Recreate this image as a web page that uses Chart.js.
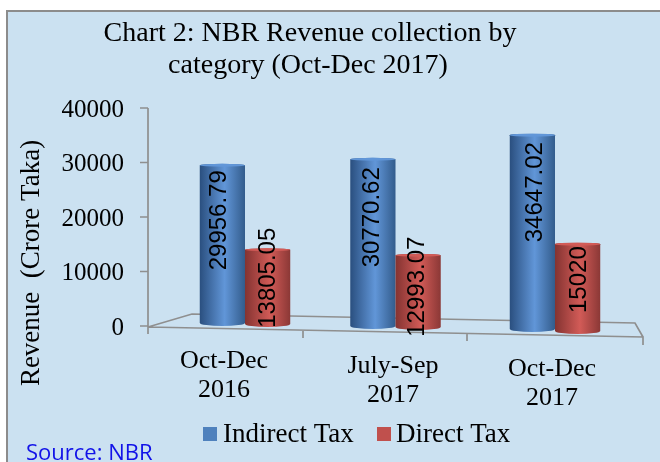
<!DOCTYPE html>
<html><head><meta charset="utf-8">
<style>html,body{margin:0;padding:0;background:#fff}#w{position:absolute;left:0;top:0;width:660px;height:462px}</style>
<script src="https://cdn.jsdelivr.net/npm/chart.js@4"></script></head>
<body><div id="w"><canvas id="c" width="660" height="462"></canvas></div>
<script>
const categories = [["Oct-Dec","2016"],["July-Sep","2017"],["Oct-Dec","2017"]];
const indirectTax = [29956.79, 30770.62, 34647.02];
const directTax = [13805.05, 12993.07, 15020];
const yTicks = [0, 10000, 20000, 30000, 40000];
const titleLines = ["Chart 2: NBR Revenue collection by", "category (Oct-Dec 2017)"];
const yAxisTitle = "Revenue  (Crore Taka)";
const sourceNote = "Source: NBR";

const SERIF = '"Liberation Serif", serif';
const palettes = [["#2a4f7f","#6196d8","#335c8c"],["#843331","#d25b57","#8b3836"]];
const swatches = ["#4f81bd","#c0504d"];
// perspective adjustments in pixels, by series then group
const groupSide = [2,-3.5,0];
const topTilt = [[2.5,1,-2],[-1,0,0]];
const baseTilt = [[-3,0,3],[-2,1,5]];
const labelDrop = [[57.5,59,55],[27,31.5,35.5]];
const labelSide = [[-3,-1,3],[1,-1,2]];
const catShift = [[-19,35],[-6,40],[-3,43]];

function cylinder(ctx, el, pal, s, k) {
  const x = el.x + groupSide[k] - el.width/2, w = el.width, top = el.y + topTilt[s][k], bot = el.base + baseTilt[s][k];
  const g = ctx.createLinearGradient(x,0,x+w,0);
  g.addColorStop(0,pal[0]); g.addColorStop(.55,pal[1]); g.addColorStop(1,pal[2]);
  ctx.fillStyle = g;
  ctx.beginPath();
  ctx.moveTo(x,top); ctx.lineTo(x,bot);
  ctx.ellipse(x+w/2,bot,w/2,3,0,Math.PI,0,true);
  ctx.lineTo(x+w,top);
  ctx.ellipse(x+w/2,top,w/2,1.5,0,0,Math.PI,true);
  ctx.closePath(); ctx.fill();
  ctx.fillStyle = pal[1];
  ctx.beginPath(); ctx.ellipse(x+w/2,top,w/2,1.5,0,0,Math.PI*2); ctx.fill();
}

const scene = {
  id:'scene',
  beforeDraw(chart){
    const {ctx} = chart;
    ctx.save();
    ctx.fillStyle='#fff'; ctx.fillRect(0,0,660,462);
    ctx.fillStyle='#cbe1f1'; ctx.fillRect(6,10,654,452);
    ctx.fillStyle='#8c8c8c'; ctx.fillRect(6,10,654,2); ctx.fillRect(6,10,2,452);
    ctx.restore();
  },
  beforeDatasetsDraw(chart){
    const {ctx,scales:{x,y}} = chart;
    const y0 = y.getPixelForValue(0), yT = y.getPixelForValue(40000);
    ctx.save();
    ctx.strokeStyle='#8f8f8f'; ctx.lineWidth=1.7;
    const ax=148;
    ctx.beginPath(); ctx.moveTo(ax,yT); ctx.lineTo(ax,y0+8);
    yTicks.forEach(v=>{const p=y.getPixelForValue(v);ctx.moveTo(ax-8,p);ctx.lineTo(ax,p);});
    ctx.moveTo(ax,y0+1); ctx.lineTo(192,y0-12); ctx.lineTo(635,y0-3); ctx.lineTo(643,y0+11);
    ctx.moveTo(ax,y0+1); ctx.lineTo(643,y0+11); ctx.lineTo(643,y0+19);
    ctx.moveTo(303,y0+4); ctx.lineTo(303,y0+12);
    ctx.moveTo(467,y0+7); ctx.lineTo(467,y0+15);
    ctx.stroke();
    chart.data.datasets.forEach((d,s)=>{
      chart.getDatasetMeta(s).data.forEach((el,k)=>cylinder(ctx,el,palettes[s],s,k));
    });
    ctx.fillStyle='#000'; ctx.font='24px "Liberation Sans", sans-serif';
    ctx.textAlign='center'; ctx.textBaseline='middle';
    chart.data.datasets.forEach((d,s)=>{
      chart.getDatasetMeta(s).data.forEach((el,k)=>{
        ctx.save();
        ctx.translate(el.x+groupSide[k]+labelSide[s][k], el.y+labelDrop[s][k]);
        ctx.rotate(-Math.PI/2);
        ctx.fillText(String(d.data[k]),0,0);
        ctx.restore();
      });
    });
    ctx.font='26px '+SERIF;
    categories.forEach((lines,k)=>{
      const m = x.getPixelForValue(k);
      lines.forEach((t,j)=>ctx.fillText(t, m+catShift[k][0], y0+catShift[k][1]+j*29));
    });
    // axis title
    ctx.save();
    ctx.font='27px '+SERIF; ctx.translate(32,263); ctx.rotate(-Math.PI/2);
    ctx.fillText(yAxisTitle,0,0);
    ctx.restore();
    // chart title
    ctx.font='28px '+SERIF;
    ctx.fillText(titleLines[0],310,34); ctx.fillText(titleLines[1],308,66);
    // legend
    ctx.font='27px '+SERIF; ctx.textAlign='left';
    [[203,223],[377,396]].forEach(([bx,tx],s)=>{
      ctx.fillStyle=swatches[s]; ctx.fillRect(bx,427,14,14);
      ctx.fillStyle='#000'; ctx.fillText(chart.data.datasets[s].label,tx,435);
    });
    // source note
    ctx.fillStyle='#1212e8'; ctx.font='22px "Open Sans", sans-serif';
    ctx.fillText(sourceNote,26,454);
    ctx.restore();
    return false;
  }
};

new Chart(document.getElementById('c'),{
  type:'bar',
  data:{labels:categories,datasets:[
    {label:'Indirect Tax',data:indirectTax,backgroundColor:swatches[0]},
    {label:'Direct Tax',data:directTax,backgroundColor:swatches[1]}
  ]},
  options:{
    responsive:false,animation:false,
    layout:{padding:{left:17,right:27,top:108,bottom:128}},
    datasets:{bar:{barPercentage:1,categoryPercentage:.58}},
    plugins:{legend:{display:false},title:{display:false},tooltip:{enabled:false}},
    scales:{
      x:{ticks:{display:false},grid:{display:false},border:{display:false}},
      y:{min:0,max:40000,
        afterBuildTicks(s){s.ticks=yTicks.map(v=>({value:v}));},
        afterFit(s){s.width=165-17;},
        ticks:{font:{family:SERIF,size:25},color:'#000',padding:41,autoSkip:false,labelOffset:2,callback:v=>String(v)},
        grid:{display:false,drawTicks:false},border:{display:false}
      }
    }
  },
  plugins:[scene]
});
</script></body></html>
